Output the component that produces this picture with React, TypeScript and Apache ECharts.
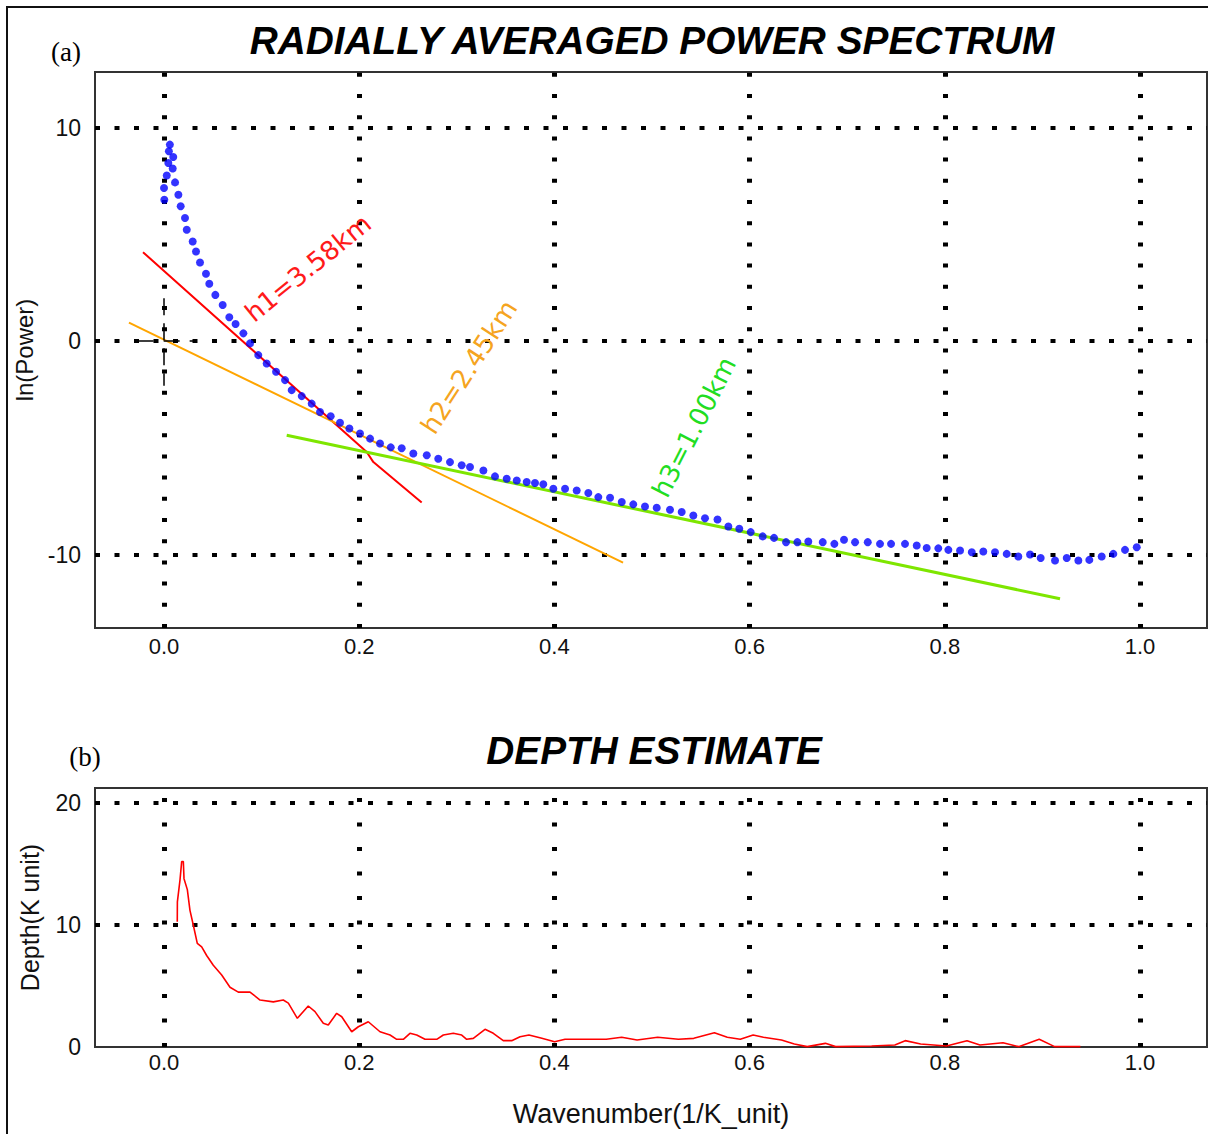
import React, { useEffect, useRef } from "react";
import * as echarts from "echarts";

// ---------- data ----------
const X_TICKS = [0, 0.2, 0.4, 0.6, 0.8, 1.0];
const Y_TICKS_TOP = [10, 0, -10];
const Y_TICKS_BOTTOM = [20, 10];

// Radially averaged power spectrum: wavenumber, ln(power)
const SPEC_K = [
  0.006, 0.005, 0.0095, 0.0044, 0.0089, 0.0028, 0.0113, 0.0, 0.0147, 0.0003,
  0.0171, 0.0215, 0.0233, 0.0294, 0.0328, 0.0369, 0.043, 0.0464, 0.0526, 0.0601,
  0.0669, 0.0733, 0.0813, 0.0881, 0.0966, 0.1052, 0.1148, 0.124, 0.1308, 0.1411,
  0.1513, 0.1598, 0.1708, 0.1803, 0.1899, 0.2008, 0.2111, 0.2213, 0.2323, 0.2435,
  0.2554, 0.2692, 0.281, 0.293, 0.305, 0.3135, 0.3272, 0.3391, 0.3511, 0.3614,
  0.3716, 0.3801, 0.3886, 0.3989, 0.4109, 0.4228, 0.4347, 0.445, 0.457, 0.469,
  0.4808, 0.4928, 0.5048, 0.5184, 0.5304, 0.5423, 0.5543, 0.5671, 0.5782, 0.5894,
  0.6011, 0.6134, 0.625, 0.6373, 0.6489, 0.6601, 0.6749, 0.6868, 0.6967, 0.708,
  0.721, 0.7336, 0.7449, 0.7592, 0.7712, 0.7814, 0.7933, 0.8036, 0.8156, 0.8276,
  0.8394, 0.8514, 0.8634, 0.8753, 0.8873, 0.8982, 0.9129, 0.9249, 0.9368, 0.948,
  0.9607, 0.9726, 0.9846, 0.9966,
];
const SPEC_LNP = [
  9.2, 8.89, 8.62, 8.34, 8.08, 7.75, 7.43, 7.17, 6.85, 6.62,
  6.31, 5.76, 5.21, 4.66, 4.19, 3.68, 3.15, 2.68, 2.16, 1.69,
  1.11, 0.8, 0.36, -0.11, -0.66, -1.05, -1.44, -1.83, -2.3, -2.58,
  -2.93, -3.32, -3.52, -3.83, -4.1, -4.33, -4.57, -4.8, -4.98, -5.02,
  -5.27, -5.35, -5.51, -5.67, -5.82, -5.9, -6.06, -6.34, -6.45, -6.53,
  -6.6, -6.65, -6.71, -6.92, -6.92, -7.0, -7.12, -7.31, -7.34, -7.54,
  -7.65, -7.75, -7.81, -7.9, -8.01, -8.17, -8.3, -8.36, -8.69, -8.79,
  -8.95, -9.15, -9.22, -9.42, -9.42, -9.39, -9.42, -9.5, -9.31, -9.42,
  -9.42, -9.5, -9.5, -9.5, -9.58, -9.69, -9.71, -9.78, -9.81, -9.89,
  -9.86, -9.89, -9.97, -10.09, -10.0, -10.16, -10.28, -10.16, -10.28, -10.25,
  -10.09, -9.97, -9.78, -9.66,
];

// Fitted slopes
const H1_K = [-0.0215, 0.2077, 0.2145, 0.264];
const H1_V = [4.16, -5.2, -5.67, -7.56];
const H2_K = [-0.0359, 0.4703];
const H2_V = [0.86, -10.38];
const H3_K = [0.1257, 0.918];
const H3_V = [-4.41, -12.07];

// Cursor cross at origin
const CROSS_V_K = [0, 0];
const CROSS_V_V = [2.0, -2.1];
const CROSS_H_K = [-0.027, 0.03];
const CROSS_H_V = [0, 0];

// Depth estimate
const DEPTH_K = [
  0.0136, 0.0137, 0.0164, 0.0181, 0.0198, 0.0205, 0.0239, 0.0266, 0.03, 0.0341,
  0.0386, 0.0437, 0.0505, 0.0591, 0.0676, 0.0761, 0.0881, 0.0984, 0.112, 0.1222,
  0.1274, 0.1366, 0.1478, 0.1547, 0.1632, 0.1683, 0.1769, 0.1821, 0.1923, 0.1991,
  0.2093, 0.2213, 0.2316, 0.2384, 0.2452, 0.252, 0.2589, 0.2674, 0.2794, 0.2862,
  0.2964, 0.305, 0.3101, 0.3169, 0.3289, 0.3374, 0.3476, 0.3562, 0.3648, 0.3739,
  0.3871, 0.4002, 0.4109, 0.432, 0.4531, 0.4689, 0.4847, 0.5058, 0.527, 0.5428,
  0.5639, 0.5771, 0.5904, 0.6036, 0.6141, 0.6326, 0.6458, 0.659, 0.6776, 0.6881,
  0.725, 0.7488, 0.7594, 0.7752, 0.8016, 0.8227, 0.836, 0.8596, 0.8756, 0.8967,
  0.9125, 0.9389,
];
const DEPTH = [
  10.27, 11.9, 13.7, 15.2, 15.2, 13.8, 12.9, 11.2, 10.0, 8.5,
  8.2, 7.5, 6.7, 5.9, 4.9, 4.5, 4.5, 3.85, 3.7, 3.85,
  3.6, 2.35, 3.36, 2.9, 1.94, 1.8, 2.76, 2.48, 1.25, 1.66,
  2.07, 1.25, 0.98, 0.63, 0.63, 1.12, 0.98, 0.63, 0.63, 0.98,
  1.12, 0.98, 0.63, 0.71, 1.45, 1.12, 0.52, 0.52, 0.84, 0.98,
  0.71, 0.43, 0.63, 0.63, 0.63, 0.8, 0.57, 0.8, 0.63, 0.71,
  1.17, 0.8, 0.63, 0.98, 0.8, 0.57, 0.25, 0.03, 0.3, 0.03,
  0.08, 0.16, 0.52, 0.25, 0.08, 0.52, 0.16, 0.35, 0.03, 0.63,
  0.03, 0.03,
];

// ---------- helpers ----------
const zip = (a: number[], b: number[]) => a.map((x, i) => [x, b[i]]);

const X_MIN = -0.0707;
const X_MAX = 1.0686;

const FONT = "Liberation Sans";

export default function App() {
  const ref = useRef<HTMLDivElement>(null);

  useEffect(() => {
    document.body.style.margin = "0";
    const chart = echarts.init(ref.current!, null, { renderer: "svg" });

    const vDotTop = { color: "#000", width: 5, type: [4, 17.2], cap: "butt" };
    const hDot = { color: "#000", width: 4, type: [5, 14.5], cap: "butt" };
    const vDotBottom = { color: "#000", width: 5, type: [4, 20.5], cap: "butt" };

    const xAxisBase = {
      type: "value",
      min: X_MIN,
      max: X_MAX,
      splitNumber: 5,
      axisLine: { show: false },
      axisTick: { show: false },
      splitLine: { show: false },
    };

    const option: any = {
      animation: false,
      backgroundColor: "#fff",
      grid: [
        {
          left: 95, top: 72, width: 1112, height: 556,
          show: true, borderColor: "#333", borderWidth: 2, backgroundColor: "transparent",
        },
        {
          left: 95, top: 788, width: 1112, height: 259,
          show: true, borderColor: "#333", borderWidth: 2, backgroundColor: "transparent",
        },
      ],
      xAxis: [
        {
          ...xAxisBase,
          gridIndex: 0,
          axisLabel: {
            showMinLabel: false, showMaxLabel: false,
            formatter: (v: number) => v.toFixed(1),
            fontSize: 22, fontFamily: FONT, color: "#111", margin: 7,
          },
        },
        {
          ...xAxisBase,
          gridIndex: 1,
          name: "Wavenumber(1/K_unit)",
          nameLocation: "middle",
          nameGap: 53,
          nameTextStyle: { fontSize: 27, fontFamily: FONT, color: "#111" },
          axisLabel: {
            showMinLabel: false, showMaxLabel: false,
            formatter: (v: number) => v.toFixed(1),
            fontSize: 22, fontFamily: FONT, color: "#111", margin: 4,
          },
        },
      ],
      yAxis: [
        {
          type: "value",
          gridIndex: 0,
          min: -13.44,
          max: 12.6,
          splitNumber: 3,
          axisLine: { show: false },
          axisTick: { show: false },
          splitLine: { show: false },
          name: "ln(Power)",
          nameLocation: "middle",
          nameGap: 54,
          nameTextStyle: { fontSize: 24, fontFamily: FONT, color: "#111" },
          axisLabel: {
            showMinLabel: false, showMaxLabel: false,
            fontSize: 23, fontFamily: FONT, color: "#111", margin: 14,
          },
        },
        {
          type: "value",
          gridIndex: 1,
          min: 0,
          max: 21.23,
          splitNumber: 2,
          axisLine: { show: false },
          axisTick: { show: false },
          splitLine: { show: false },
          name: "Depth(K unit)",
          nameLocation: "middle",
          nameGap: 53,
          nameTextStyle: { fontSize: 25, fontFamily: FONT, color: "#111" },
          axisLabel: {
            showMaxLabel: false,
            fontSize: 23, fontFamily: FONT, color: "#111", margin: 14,
          },
        },
      ],
      series: [
        {
          name: "h1",
          type: "line",
          xAxisIndex: 0, yAxisIndex: 0,
          data: zip(H1_K, H1_V),
          symbol: "none",
          lineStyle: { color: "#ff0000", width: 2 },
          z: 3,
        },
        {
          name: "h2",
          type: "line",
          xAxisIndex: 0, yAxisIndex: 0,
          data: zip(H2_K, H2_V),
          symbol: "none",
          lineStyle: { color: "#ffa500", width: 2 },
          z: 3,
        },
        {
          name: "h3",
          type: "line",
          xAxisIndex: 0, yAxisIndex: 0,
          data: zip(H3_K, H3_V),
          symbol: "none",
          lineStyle: { color: "#7ee600", width: 3 },
          z: 3,
        },
        {
          name: "crossV",
          type: "line",
          xAxisIndex: 0, yAxisIndex: 0,
          data: zip(CROSS_V_K, CROSS_V_V),
          symbol: "none",
          lineStyle: { color: "#000", width: 1.5, type: [17, 8] },
          z: 3,
        },
        {
          name: "crossH",
          type: "line",
          xAxisIndex: 0, yAxisIndex: 0,
          data: zip(CROSS_H_K, CROSS_H_V),
          symbol: "none",
          lineStyle: { color: "#000", width: 1.5, type: [16, 10] },
          z: 3,
        },
        {
          name: "spectrum",
          type: "scatter",
          xAxisIndex: 0, yAxisIndex: 0,
          data: zip(SPEC_K, SPEC_LNP),
          symbol: "circle",
          symbolSize: 8,
          itemStyle: { color: "#0000ff" },
          z: 4,
          markLine: {
            silent: true,
            z: 1,
            symbol: ["none", "none"],
            label: { show: false },
            emphasis: { disabled: true },
            data: [
              ...X_TICKS.map((v) => ({ xAxis: v, lineStyle: vDotTop })),
              ...Y_TICKS_TOP.map((v) => ({ yAxis: v, lineStyle: hDot })),
            ],
          },
        },
        {
          name: "depth",
          type: "line",
          xAxisIndex: 1, yAxisIndex: 1,
          data: zip(DEPTH_K, DEPTH),
          symbol: "none",
          lineStyle: { color: "#ff0000", width: 1.6 },
          z: 4,
          markLine: {
            silent: true,
            z: 1,
            symbol: ["none", "none"],
            label: { show: false },
            emphasis: { disabled: true },
            data: [
              ...X_TICKS.map((v) => ({ xAxis: v, lineStyle: vDotBottom })),
              ...Y_TICKS_BOTTOM.map((v) => ({ yAxis: v, lineStyle: hDot })),
            ],
          },
        },
      ],
      graphic: [
        {
          type: "rect",
          shape: { x: 7, y: 7, width: 1400, height: 1400 },
          style: { fill: "none", stroke: "#111", lineWidth: 2 },
          silent: true,
        },
        {
          type: "text",
          x: 652, y: 40,
          style: {
            text: "RADIALLY AVERAGED POWER SPECTRUM",
            fontSize: 38.8, fontWeight: "bold", fontStyle: "italic", fontFamily: FONT,
            fill: "#000", textAlign: "center", textVerticalAlign: "middle",
            align: "center", verticalAlign: "middle",
          },
        },
        {
          type: "text",
          x: 654, y: 750,
          style: {
            text: "DEPTH ESTIMATE",
            fontSize: 38.8, fontWeight: "bold", fontStyle: "italic", fontFamily: FONT,
            fill: "#000", textAlign: "center", textVerticalAlign: "middle",
            align: "center", verticalAlign: "middle",
          },
        },
        {
          type: "text",
          x: 66, y: 52,
          style: {
            text: "(a)", fontSize: 27, fontFamily: "Liberation Serif", fill: "#000",
            textAlign: "center", textVerticalAlign: "middle", align: "center", verticalAlign: "middle",
          },
        },
        {
          type: "text",
          x: 85, y: 757,
          style: {
            text: "(b)", fontSize: 27, fontFamily: "Liberation Serif", fill: "#000",
            textAlign: "center", textVerticalAlign: "middle", align: "center", verticalAlign: "middle",
          },
        },
        {
          type: "text",
          x: 308, y: 268,
          rotation: (39 * Math.PI) / 180,
          z: 10,
          style: {
            text: "h1=3.58km", fontSize: 26, fontFamily: "DejaVu Sans", fill: "#ff1a1a",
            textAlign: "center", textVerticalAlign: "middle", align: "center", verticalAlign: "middle",
          },
        },
        {
          type: "text",
          x: 469, y: 367,
          rotation: (57 * Math.PI) / 180,
          z: 10,
          style: {
            text: "h2=2.45km", fontSize: 26, fontFamily: "DejaVu Sans", fill: "#f5a420",
            textAlign: "center", textVerticalAlign: "middle", align: "center", verticalAlign: "middle",
          },
        },
        {
          type: "text",
          x: 694, y: 427,
          rotation: (63 * Math.PI) / 180,
          z: 10,
          style: {
            text: "h3=1.00km", fontSize: 26, fontFamily: "DejaVu Sans", fill: "#22dd22",
            textAlign: "center", textVerticalAlign: "middle", align: "center", verticalAlign: "middle",
          },
        },
      ],
    };

    chart.setOption(option);
    return () => chart.dispose();
  }, []);

  return (
    <div
      ref={ref}
      style={{ position: "absolute", left: 0, top: 0, width: 1208, height: 1134, background: "#fff" }}
    />
  );
}
